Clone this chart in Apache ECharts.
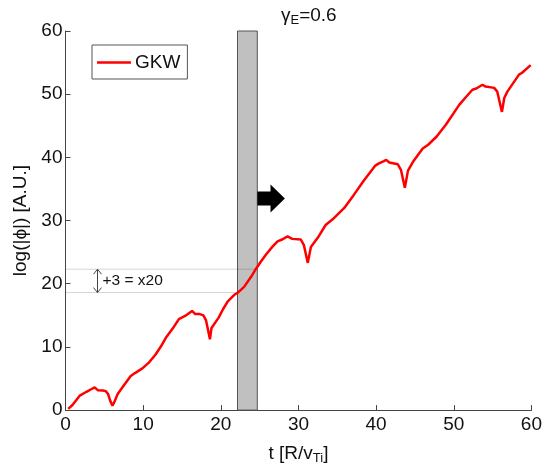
<!DOCTYPE html>
<html>
<head>
<meta charset="utf-8">
<script src="https://cdn.jsdelivr.net/npm/echarts@6/dist/echarts.min.js"></script>
<style>html,body{margin:0;padding:0;background:#fff}#c{width:545px;height:470px}</style>
</head>
<body>
<div id="c"></div>
<script>
// ---- data ----
const times = [0.35,0.9,1.4,1.85,2.7,3.3,3.75,4.15,4.8,5.2,5.5,5.75,6.05,6.3,6.7,7.5,8.4,9.0,9.9,10.8,11.6,12.3,12.9,13.8,14.6,15.4,16.3,16.7,17.3,17.75,18.1,18.35,18.6,18.8,19.7,20.3,20.9,21.8,22.2,23.0,23.9,24.5,25.1,25.8,26.6,27.3,27.9,28.6,29.2,30.3,30.7,31.2,31.6,32.5,33.5,34.4,35.9,37.15,38.4,39.9,40.3,41.0,41.3,41.7,42.8,43.2,43.7,44.1,44.8,46.0,46.7,47.8,49.0,50.7,51.6,52.4,52.9,53.7,54.1,55.2,55.6,56.2,56.5,56.9,58.4,58.8,59.9];
const logPhi = [0.2,0.8,1.6,2.3,2.9,3.3,3.6,3.15,3.1,3.0,2.5,1.5,0.7,1.3,2.5,3.9,5.4,5.9,6.6,7.6,8.8,10.1,11.4,12.9,14.4,14.9,15.7,15.2,15.2,15.0,14.2,12.7,11.2,13.0,14.6,16.0,17.2,18.3,18.6,19.5,21.1,22.3,23.4,24.6,25.8,26.7,27.0,27.5,27.1,27.0,26.1,23.3,25.8,27.3,29.3,30.2,32.0,34.1,36.3,38.7,39.0,39.4,39.6,39.2,38.9,38.0,35.2,37.9,39.4,41.4,42.0,43.3,45.2,48.3,49.6,50.7,50.9,51.5,51.2,51.0,50.4,47.2,49.4,50.4,53.1,53.4,54.6];
const xTicks = [0,10,20,30,40,50,60];
const yTicks = [0,10,20,30,40,50,60];
const seriesName = 'GKW';
const titleLabel = ['γ','E','=0.6'];
const xLabel = ['t [R/v','Ti',']'];
const yLabel = 'log(|ϕ|) [A.U.]';
// annotation values (data units)
const bandT = [22.15, 24.7];
const refLevels = [22.3, 18.6];
const refLineEnds = [24.7, 22.15];
const doubleArrowT = 4.1;
const annotText = '+3 = x20';
const bigArrow = [24.7, 26.4, 28.25, 33.5]; // start, head start, tip, level

const chart = echarts.init(document.getElementById('c'), null, {renderer:'canvas'});
const FONT = 'Liberation Sans, Arial, sans-serif';
const AX = '#444';

const lineData = times.map((t,i)=>[t, logPhi[i]]);

chart.setOption({
  animation:false,
  backgroundColor:'#fff',
  title:{
    text:'{g|'+titleLabel[0]+'}{s|'+titleLabel[1]+'}{n|'+titleLabel[2]+'}',
    left:276, top:0,
    textStyle:{
      fontWeight:'normal',
      rich:{
        g:{fontSize:19,fontFamily:FONT,fontWeight:'normal',color:'#111',lineHeight:22,verticalAlign:'top',padding:[1,0,0,0]},
        s:{fontSize:13,fontFamily:FONT,fontWeight:'normal',color:'#111',verticalAlign:'bottom',lineHeight:13,padding:[13,0,0,0]},
        n:{fontSize:19,fontFamily:FONT,fontWeight:'normal',color:'#111',lineHeight:22,verticalAlign:'top',padding:[1,0,0,0]}
      }
    }
  },
  legend:{
    data:[seriesName],
    left:92, top:45,
    orient:'vertical',
    icon:'rect',
    itemWidth:34, itemHeight:2.5,
    itemGap:0,
    padding:[8,7,7,5],
    borderColor:'#555', borderWidth:1,
    backgroundColor:'#fff',
    textStyle:{fontSize:19,fontFamily:FONT,color:'#111',padding:[0,0,0,-1]}
  },
  grid:{left:65.5, right:9, top:31, bottom:59, containLabel:false},
  xAxis:{
    type:'value', min:xTicks[0], max:xTicks[xTicks.length-1], interval:10,
    name:'{a|'+xLabel[0]+'}{b|'+xLabel[1]+'}{a|'+xLabel[2]+'}',
    nameLocation:'middle', nameGap:21,
    nameTextStyle:{
      rich:{
        a:{fontSize:19,fontFamily:FONT,color:'#111',verticalAlign:'top',lineHeight:21},
        b:{fontSize:13,fontFamily:FONT,color:'#111',verticalAlign:'bottom',lineHeight:13,padding:[13,0,0,0]}
      }
    },
    axisLine:{show:true,onZero:false,lineStyle:{color:AX,width:1}},
    axisTick:{show:true,inside:true,length:5,lineStyle:{color:AX}},
    axisLabel:{fontSize:19,fontFamily:FONT,color:'#111',margin:5},
    splitLine:{show:false}
  },
  yAxis:{
    type:'value', min:yTicks[0], max:yTicks[yTicks.length-1], interval:10,
    name:yLabel, nameLocation:'middle', nameGap:32,
    nameTextStyle:{fontSize:19,fontFamily:FONT,color:'#111'},
    axisLine:{show:true,onZero:false,lineStyle:{color:AX,width:1}},
    axisTick:{show:true,inside:true,length:5,lineStyle:{color:AX}},
    axisLabel:{fontSize:19,fontFamily:FONT,color:'#111',margin:3},
    splitLine:{show:false}
  },
  series:[
    {
      type:'custom', name:'band', silent:true, z:1,
      data:[bandT],
      renderItem:function(params, api){
        const p0 = api.coord([api.value(0), yTicks[yTicks.length-1]]);
        const p1 = api.coord([api.value(1), yTicks[0]]);
        return {type:'rect', shape:{x:p0[0], y:p0[1], width:p1[0]-p0[0], height:p1[1]-p0[1]},
          style:{fill:'#c0c0c0', stroke:'#555', lineWidth:1}};
      }
    },
    {
      type:'custom', name:'refLines', silent:true, z:2,
      data:refLevels.map((v,i)=>[refLineEnds[i], v]),
      renderItem:function(params, api){
        const a = api.coord([xTicks[0], api.value(1)]);
        const b = api.coord([api.value(0), api.value(1)]);
        return {type:'line', shape:{x1:a[0], y1:a[1], x2:b[0], y2:b[1]},
          style:{stroke:'rgba(0,0,0,0.17)', lineWidth:1}};
      }
    },
    {
      type:'custom', name:'doubleArrow', silent:true, z:3,
      data:[[doubleArrowT, refLevels[0], refLevels[1]]],
      renderItem:function(params, api){
        const top = api.coord([api.value(0), api.value(1)]);
        const bot = api.coord([api.value(0), api.value(2)]);
        const x = Math.round(top[0])+0.5;
        const s = {stroke:'#444', lineWidth:1, fill:null};
        return {type:'group', children:[
          {type:'line', shape:{x1:x,y1:top[1],x2:x,y2:bot[1]}, style:s},
          {type:'polyline', shape:{points:[[x-4,top[1]+5],[x,top[1]],[x+4,top[1]+5]]}, style:s},
          {type:'polyline', shape:{points:[[x-4,bot[1]-5],[x,bot[1]],[x+4,bot[1]-5]]}, style:s},
          {type:'text', x:x+5, y:(top[1]+bot[1])/2,
            style:{text:annotText, fontSize:15.5, fontFamily:FONT, fill:'#111', verticalAlign:'middle', align:'left'}}
        ]};
      }
    },
    {
      type:'custom', name:'bigArrow', silent:true, z:4,
      data:[bigArrow],
      renderItem:function(params, api){
        const a = api.coord([api.value(0), api.value(3)]);
        const h = api.coord([api.value(1), api.value(3)]);
        const t = api.coord([api.value(2), api.value(3)]);
        const y = a[1];
        return {type:'polygon', shape:{points:[
          [a[0],y-7],[h[0],y-7],[h[0],y-14],[t[0],y],[h[0],y+14],[h[0],y+7],[a[0],y+7]
        ]}, style:{fill:'#000'}};
      }
    },
    {
      type:'line', name:seriesName, data:lineData, z:5,
      showSymbol:false, symbol:'none', smooth:false,
      lineStyle:{color:'#ff0000', width:2.5},
      itemStyle:{color:'#ff0000'}
    }
  ]
});
</script>
</body>
</html>
